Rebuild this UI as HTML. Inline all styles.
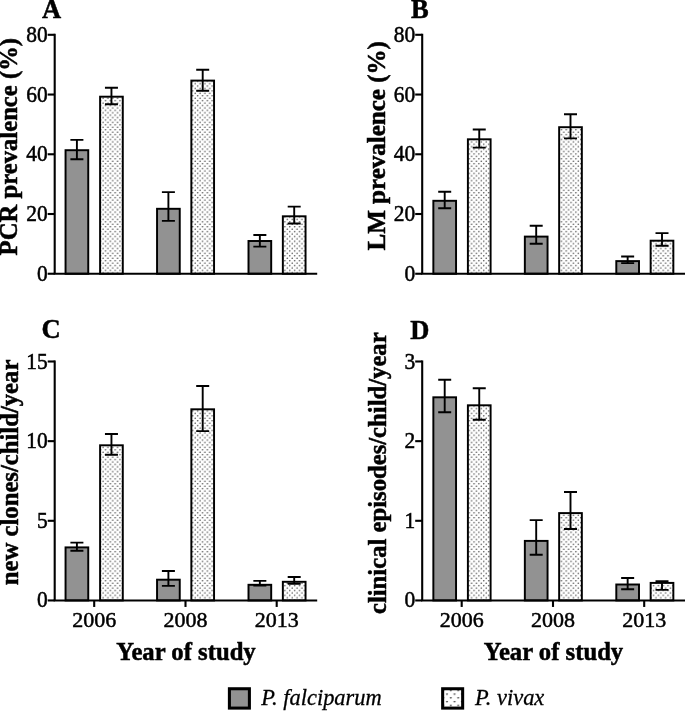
<!DOCTYPE html>
<html lang="en">
<head>
<meta charset="utf-8">
<title>Prevalence and incidence by year of study</title>
<style>
html,body{margin:0;padding:0;background:#fff;}
body{width:685px;height:711px;overflow:hidden;}
svg{display:block;}
text{font-family:"Liberation Serif","DejaVu Serif",serif;fill:#000;}
.t{font-size:22px;stroke:#000;stroke-width:0.5px;}
.b{font-size:24.2px;font-weight:bold;stroke:#000;stroke-width:0.5px;}
.y{font-size:22.6px;stroke:#000;stroke-width:0.5px;}
.L{font-size:26.5px;font-weight:bold;stroke:#000;stroke-width:0.5px;}
.i{font-size:23px;font-style:italic;stroke:#000;stroke-width:0.3px;}
</style>
</head>
<body>
<svg width="685" height="711" viewBox="0 0 685 711">
<defs>
<pattern id="dots" patternUnits="userSpaceOnUse" width="4.85" height="4.85">
<rect width="4.85" height="4.85" fill="#fff"/>
<circle cx="1.2" cy="1.2" r="0.8" fill="#4c4c4c"/>
<circle cx="3.625" cy="3.625" r="0.8" fill="#4c4c4c"/>
</pattern>
<pattern id="dots2" patternUnits="userSpaceOnUse" width="7.5" height="7.5" x="445.2" y="692.5">
<rect width="7.5" height="7.5" fill="#fff"/>
<path d="M0.5 1h2.6l-1.3 1.9z" fill="#4a4a4a"/>
<path d="M4.25 4.75h2.6l-1.3 1.9z" fill="#4a4a4a"/>
</pattern>
</defs>
<rect width="685" height="711" fill="#fff"/>
<rect x="65.55" y="150.20" width="22.70" height="123.55" fill="#929292" stroke="#000" stroke-width="1.95"/><path d="M70.40 139.90H83.40M70.40 159.20H83.40M76.90 139.90V159.20" stroke="#000" stroke-width="1.9" fill="none"/>
<rect x="100.10" y="96.70" width="22.70" height="177.05" fill="url(#dots)" stroke="#000" stroke-width="1.95"/><path d="M104.95 87.70H117.95M104.95 104.20H117.95M111.45 87.70V104.20" stroke="#000" stroke-width="1.9" fill="none"/>
<rect x="157.05" y="208.80" width="22.70" height="64.95" fill="#929292" stroke="#000" stroke-width="1.95"/><path d="M161.90 192.10H174.90M161.90 220.90H174.90M168.40 192.10V220.90" stroke="#000" stroke-width="1.9" fill="none"/>
<rect x="191.35" y="80.60" width="22.70" height="193.15" fill="url(#dots)" stroke="#000" stroke-width="1.95"/><path d="M196.20 69.80H209.20M196.20 90.70H209.20M202.70 69.80V90.70" stroke="#000" stroke-width="1.9" fill="none"/>
<rect x="248.50" y="241.00" width="22.70" height="32.75" fill="#929292" stroke="#000" stroke-width="1.95"/><path d="M253.35 235.00H266.35M253.35 246.60H266.35M259.85 235.00V246.60" stroke="#000" stroke-width="1.9" fill="none"/>
<rect x="282.85" y="216.30" width="22.70" height="57.45" fill="url(#dots)" stroke="#000" stroke-width="1.95"/><path d="M287.70 206.60H300.70M287.70 223.50H300.70M294.20 206.60V223.50" stroke="#000" stroke-width="1.9" fill="none"/>
<path d="M54.70 33.75V273.75" stroke="#000" stroke-width="2.1" fill="none"/><path d="M53.65 273.75H317.20" stroke="#000" stroke-width="1.95" fill="none"/>
<path d="M47.70 34.80H54.70" stroke="#000" stroke-width="2.1"/>
<text class="y" transform="translate(47.70 41.80) scale(0.95 1)" text-anchor="end">80</text>
<path d="M47.70 94.54H54.70" stroke="#000" stroke-width="2.1"/>
<text class="y" transform="translate(47.70 101.54) scale(0.95 1)" text-anchor="end">60</text>
<path d="M47.70 154.27H54.70" stroke="#000" stroke-width="2.1"/>
<text class="y" transform="translate(47.70 161.27) scale(0.95 1)" text-anchor="end">40</text>
<path d="M47.70 214.01H54.70" stroke="#000" stroke-width="2.1"/>
<text class="y" transform="translate(47.70 221.01) scale(0.95 1)" text-anchor="end">20</text>
<path d="M47.70 273.75H54.70" stroke="#000" stroke-width="2.1"/>
<text class="y" transform="translate(47.70 280.75) scale(0.95 1)" text-anchor="end">0</text>
<text class="L" x="42.00" y="18.40">A</text>
<text class="b" transform="translate(17.40 146.70) rotate(-90) scale(1.02 1)" text-anchor="middle">PCR prevalence (%)</text>
<rect x="433.35" y="200.80" width="22.70" height="72.95" fill="#929292" stroke="#000" stroke-width="1.95"/><path d="M438.20 191.70H451.20M438.20 208.30H451.20M444.70 191.70V208.30" stroke="#000" stroke-width="1.9" fill="none"/>
<rect x="467.90" y="139.30" width="22.70" height="134.45" fill="url(#dots)" stroke="#000" stroke-width="1.95"/><path d="M472.75 129.50H485.75M472.75 147.60H485.75M479.25 129.50V147.60" stroke="#000" stroke-width="1.9" fill="none"/>
<rect x="524.85" y="236.60" width="22.70" height="37.15" fill="#929292" stroke="#000" stroke-width="1.95"/><path d="M529.70 225.70H542.70M529.70 243.80H542.70M536.20 225.70V243.80" stroke="#000" stroke-width="1.9" fill="none"/>
<rect x="559.15" y="127.20" width="22.70" height="146.55" fill="url(#dots)" stroke="#000" stroke-width="1.95"/><path d="M564.00 114.30H577.00M564.00 138.40H577.00M570.50 114.30V138.40" stroke="#000" stroke-width="1.9" fill="none"/>
<rect x="616.30" y="261.10" width="22.70" height="12.65" fill="#929292" stroke="#000" stroke-width="1.95"/><path d="M621.15 256.50H634.15M621.15 263.10H634.15M627.65 256.50V263.10" stroke="#000" stroke-width="1.9" fill="none"/>
<rect x="650.65" y="240.70" width="22.70" height="33.05" fill="url(#dots)" stroke="#000" stroke-width="1.95"/><path d="M655.50 233.10H668.50M655.50 245.70H668.50M662.00 233.10V245.70" stroke="#000" stroke-width="1.9" fill="none"/>
<path d="M422.20 33.75V273.75" stroke="#000" stroke-width="2.1" fill="none"/><path d="M421.15 273.75H686.00" stroke="#000" stroke-width="1.95" fill="none"/>
<path d="M415.20 34.80H422.20" stroke="#000" stroke-width="2.1"/>
<text class="y" transform="translate(415.20 41.80) scale(0.95 1)" text-anchor="end">80</text>
<path d="M415.20 94.54H422.20" stroke="#000" stroke-width="2.1"/>
<text class="y" transform="translate(415.20 101.54) scale(0.95 1)" text-anchor="end">60</text>
<path d="M415.20 154.27H422.20" stroke="#000" stroke-width="2.1"/>
<text class="y" transform="translate(415.20 161.27) scale(0.95 1)" text-anchor="end">40</text>
<path d="M415.20 214.01H422.20" stroke="#000" stroke-width="2.1"/>
<text class="y" transform="translate(415.20 221.01) scale(0.95 1)" text-anchor="end">20</text>
<path d="M415.20 273.75H422.20" stroke="#000" stroke-width="2.1"/>
<text class="y" transform="translate(415.20 280.75) scale(0.95 1)" text-anchor="end">0</text>
<text class="L" x="411.00" y="18.40">B</text>
<text class="b" transform="translate(385.20 145.80) rotate(-90) scale(1.035 1)" text-anchor="middle">LM prevalence (%)</text>
<rect x="65.55" y="547.40" width="22.70" height="53.05" fill="#929292" stroke="#000" stroke-width="1.95"/><path d="M70.40 542.60H83.40M70.40 550.80H83.40M76.90 542.60V550.80" stroke="#000" stroke-width="1.9" fill="none"/>
<rect x="100.10" y="445.30" width="22.70" height="155.15" fill="url(#dots)" stroke="#000" stroke-width="1.95"/><path d="M104.95 434.00H117.95M104.95 454.70H117.95M111.45 434.00V454.70" stroke="#000" stroke-width="1.9" fill="none"/>
<rect x="157.05" y="579.70" width="22.70" height="20.75" fill="#929292" stroke="#000" stroke-width="1.95"/><path d="M161.90 571.00H174.90M161.90 585.90H174.90M168.40 571.00V585.90" stroke="#000" stroke-width="1.9" fill="none"/>
<rect x="191.35" y="409.30" width="22.70" height="191.15" fill="url(#dots)" stroke="#000" stroke-width="1.95"/><path d="M196.20 386.00H209.20M196.20 431.10H209.20M202.70 386.00V431.10" stroke="#000" stroke-width="1.9" fill="none"/>
<rect x="248.50" y="584.80" width="22.70" height="15.65" fill="#929292" stroke="#000" stroke-width="1.95"/><path d="M253.35 580.90H266.35M253.35 585.50H266.35M259.85 580.90V585.50" stroke="#000" stroke-width="1.9" fill="none"/>
<rect x="282.85" y="581.80" width="22.70" height="18.65" fill="url(#dots)" stroke="#000" stroke-width="1.95"/><path d="M287.70 577.00H300.70M287.70 583.70H300.70M294.20 577.00V583.70" stroke="#000" stroke-width="1.9" fill="none"/>
<path d="M54.70 360.45V600.45" stroke="#000" stroke-width="2.1" fill="none"/><path d="M53.65 600.45H317.20" stroke="#000" stroke-width="1.95" fill="none"/>
<path d="M47.70 361.50H54.70" stroke="#000" stroke-width="2.1"/>
<text class="y" transform="translate(47.70 368.50) scale(0.95 1)" text-anchor="end">15</text>
<path d="M47.70 441.15H54.70" stroke="#000" stroke-width="2.1"/>
<text class="y" transform="translate(47.70 448.15) scale(0.95 1)" text-anchor="end">10</text>
<path d="M47.70 520.80H54.70" stroke="#000" stroke-width="2.1"/>
<text class="y" transform="translate(47.70 527.80) scale(0.95 1)" text-anchor="end">5</text>
<path d="M47.70 600.45H54.70" stroke="#000" stroke-width="2.1"/>
<text class="y" transform="translate(47.70 607.45) scale(0.95 1)" text-anchor="end">0</text>
<path d="M94.20 600.45V606.95" stroke="#000" stroke-width="2.1"/>
<text class="t" transform="translate(94.20 626.75) scale(1.0 1)" text-anchor="middle">2006</text>
<path d="M185.50 600.45V606.95" stroke="#000" stroke-width="2.1"/>
<text class="t" transform="translate(185.50 626.75) scale(1.0 1)" text-anchor="middle">2008</text>
<path d="M276.70 600.45V606.95" stroke="#000" stroke-width="2.1"/>
<text class="t" transform="translate(276.70 626.75) scale(1.0 1)" text-anchor="middle">2013</text>
<text class="b" transform="translate(186.00 659.75) scale(1.02 1)" text-anchor="middle">Year of study</text>
<text class="L" x="41.60" y="337.80">C</text>
<text class="b" transform="translate(18.10 472.40) rotate(-90) scale(1.02 1)" text-anchor="middle">new clones/child/year</text>
<rect x="433.35" y="397.30" width="22.70" height="203.15" fill="#929292" stroke="#000" stroke-width="1.95"/><path d="M438.20 379.70H451.20M438.20 412.30H451.20M444.70 379.70V412.30" stroke="#000" stroke-width="1.9" fill="none"/>
<rect x="467.90" y="405.30" width="22.70" height="195.15" fill="url(#dots)" stroke="#000" stroke-width="1.95"/><path d="M472.75 388.20H485.75M472.75 419.70H485.75M479.25 388.20V419.70" stroke="#000" stroke-width="1.9" fill="none"/>
<rect x="524.85" y="540.90" width="22.70" height="59.55" fill="#929292" stroke="#000" stroke-width="1.95"/><path d="M529.70 520.10H542.70M529.70 554.80H542.70M536.20 520.10V554.80" stroke="#000" stroke-width="1.9" fill="none"/>
<rect x="559.15" y="513.10" width="22.70" height="87.35" fill="url(#dots)" stroke="#000" stroke-width="1.95"/><path d="M564.00 492.00H577.00M564.00 529.00H577.00M570.50 492.00V529.00" stroke="#000" stroke-width="1.9" fill="none"/>
<rect x="616.30" y="584.50" width="22.70" height="15.95" fill="#929292" stroke="#000" stroke-width="1.95"/><path d="M621.15 578.00H634.15M621.15 589.30H634.15M627.65 578.00V589.30" stroke="#000" stroke-width="1.9" fill="none"/>
<rect x="650.65" y="582.90" width="22.70" height="17.55" fill="url(#dots)" stroke="#000" stroke-width="1.95"/><path d="M655.50 581.10H668.50M655.50 589.90H668.50M662.00 581.10V589.90" stroke="#000" stroke-width="1.9" fill="none"/>
<path d="M422.20 360.45V600.45" stroke="#000" stroke-width="2.1" fill="none"/><path d="M421.15 600.45H686.00" stroke="#000" stroke-width="1.95" fill="none"/>
<path d="M415.20 361.50H422.20" stroke="#000" stroke-width="2.1"/>
<text class="y" transform="translate(415.20 368.50) scale(0.95 1)" text-anchor="end">3</text>
<path d="M415.20 441.15H422.20" stroke="#000" stroke-width="2.1"/>
<text class="y" transform="translate(415.20 448.15) scale(0.95 1)" text-anchor="end">2</text>
<path d="M415.20 520.80H422.20" stroke="#000" stroke-width="2.1"/>
<text class="y" transform="translate(415.20 527.80) scale(0.95 1)" text-anchor="end">1</text>
<path d="M415.20 600.45H422.20" stroke="#000" stroke-width="2.1"/>
<text class="y" transform="translate(415.20 607.45) scale(0.95 1)" text-anchor="end">0</text>
<path d="M461.70 600.45V606.95" stroke="#000" stroke-width="2.1"/>
<text class="t" transform="translate(461.70 626.75) scale(1.0 1)" text-anchor="middle">2006</text>
<path d="M553.00 600.45V606.95" stroke="#000" stroke-width="2.1"/>
<text class="t" transform="translate(553.00 626.75) scale(1.0 1)" text-anchor="middle">2008</text>
<path d="M644.20 600.45V606.95" stroke="#000" stroke-width="2.1"/>
<text class="t" transform="translate(644.20 626.75) scale(1.0 1)" text-anchor="middle">2013</text>
<text class="b" transform="translate(553.50 659.75) scale(1.02 1)" text-anchor="middle">Year of study</text>
<text class="L" x="410.30" y="338.80">D</text>
<text class="b" transform="translate(385.70 473.20) rotate(-90) scale(1.02 1)" text-anchor="middle">clinical episodes/child/year</text>

<rect x="229.4" y="688.75" width="20" height="19.35" fill="#929292" stroke="#000" stroke-width="3.05"/>
<text class="i" transform="translate(261.3 704.6) scale(0.975 1)">P. falciparum</text>
<rect x="442.65" y="688.75" width="20" height="19.35" fill="url(#dots2)" stroke="#000" stroke-width="3.05"/>
<text class="i" transform="translate(475 704.6) scale(0.975 1)">P. vivax</text>

</svg>
</body>
</html>
